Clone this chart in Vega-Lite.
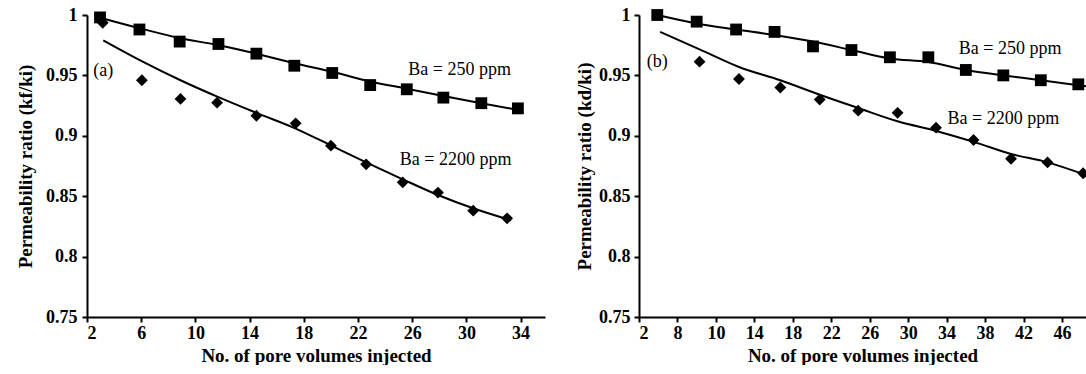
{
  "$schema": "https://vega.github.io/schema/vega-lite/v6.json",
  "background": "white",
  "padding": {"left": 16, "top": 6, "right": 0, "bottom": 0},
  "spacing": 30,
  "config": {
    "font": "Liberation Serif",
    "view": {"stroke": null},
    "axis": {
      "grid": false,
      "domainColor": "black",
      "domainWidth": 2,
      "tickColor": "black",
      "tickWidth": 2,
      "tickSize": 5,
      "labelFont": "Liberation Serif",
      "labelFontWeight": "bold",
      "labelFontSize": 18,
      "labelColor": "black",
      "titleFont": "Liberation Serif",
      "titleFontWeight": "bold",
      "titleFontSize": 19,
      "titleColor": "black"
    }
  },
  "datasets": {
    "a": [
      {"x": 2.96, "y": 0.998, "series": "250", "kind": "data"},
      {"x": 5.87, "y": 0.988, "series": "250", "kind": "data"},
      {"x": 8.84, "y": 0.978, "series": "250", "kind": "data"},
      {"x": 11.7, "y": 0.976, "series": "250", "kind": "data"},
      {"x": 14.5, "y": 0.968, "series": "250", "kind": "data"},
      {"x": 17.3, "y": 0.958, "series": "250", "kind": "data"},
      {"x": 20.1, "y": 0.952, "series": "250", "kind": "data"},
      {"x": 22.9, "y": 0.942, "series": "250", "kind": "data"},
      {"x": 25.6, "y": 0.9385, "series": "250", "kind": "data"},
      {"x": 28.3, "y": 0.9316, "series": "250", "kind": "data"},
      {"x": 31.1, "y": 0.927, "series": "250", "kind": "data"},
      {"x": 33.8, "y": 0.9227, "series": "250", "kind": "data"},
      {"x": 3.16, "y": 0.9936, "series": "2200", "kind": "data"},
      {"x": 6.05, "y": 0.946, "series": "2200", "kind": "data"},
      {"x": 8.9, "y": 0.9305, "series": "2200", "kind": "data"},
      {"x": 11.6, "y": 0.9274, "series": "2200", "kind": "data"},
      {"x": 14.5, "y": 0.9166, "series": "2200", "kind": "data"},
      {"x": 17.4, "y": 0.9103, "series": "2200", "kind": "data"},
      {"x": 20.0, "y": 0.8918, "series": "2200", "kind": "data"},
      {"x": 22.6, "y": 0.8764, "series": "2200", "kind": "data"},
      {"x": 25.3, "y": 0.8615, "series": "2200", "kind": "data"},
      {"x": 27.9, "y": 0.853, "series": "2200", "kind": "data"},
      {"x": 30.5, "y": 0.838, "series": "2200", "kind": "data"},
      {"x": 33.0, "y": 0.8317, "series": "2200", "kind": "data"},
      {"x": 2.9, "y": 0.998, "series": "250", "kind": "fit"},
      {"x": 5.9, "y": 0.989, "series": "250", "kind": "fit"},
      {"x": 8.8, "y": 0.981, "series": "250", "kind": "fit"},
      {"x": 11.7, "y": 0.975, "series": "250", "kind": "fit"},
      {"x": 14.5, "y": 0.968, "series": "250", "kind": "fit"},
      {"x": 17.3, "y": 0.96, "series": "250", "kind": "fit"},
      {"x": 20.1, "y": 0.953, "series": "250", "kind": "fit"},
      {"x": 22.9, "y": 0.945, "series": "250", "kind": "fit"},
      {"x": 25.6, "y": 0.939, "series": "250", "kind": "fit"},
      {"x": 28.3, "y": 0.933, "series": "250", "kind": "fit"},
      {"x": 31.1, "y": 0.927, "series": "250", "kind": "fit"},
      {"x": 34.0, "y": 0.921, "series": "250", "kind": "fit"},
      {"x": 3.2, "y": 0.979, "series": "2200", "kind": "fit"},
      {"x": 6.0, "y": 0.962, "series": "2200", "kind": "fit"},
      {"x": 8.9, "y": 0.946, "series": "2200", "kind": "fit"},
      {"x": 11.7, "y": 0.932, "series": "2200", "kind": "fit"},
      {"x": 14.5, "y": 0.919, "series": "2200", "kind": "fit"},
      {"x": 17.4, "y": 0.906, "series": "2200", "kind": "fit"},
      {"x": 20.0, "y": 0.892, "series": "2200", "kind": "fit"},
      {"x": 22.6, "y": 0.878, "series": "2200", "kind": "fit"},
      {"x": 25.3, "y": 0.864, "series": "2200", "kind": "fit"},
      {"x": 27.9, "y": 0.851, "series": "2200", "kind": "fit"},
      {"x": 30.5, "y": 0.84, "series": "2200", "kind": "fit"},
      {"x": 33.3, "y": 0.83, "series": "2200", "kind": "fit"}
    ],
    "b": [
      {"x": 3.9, "y": 1.0, "series": "250", "kind": "data"},
      {"x": 8.0, "y": 0.9945, "series": "250", "kind": "data"},
      {"x": 12.1, "y": 0.988, "series": "250", "kind": "data"},
      {"x": 16.1, "y": 0.986, "series": "250", "kind": "data"},
      {"x": 20.1, "y": 0.974, "series": "250", "kind": "data"},
      {"x": 24.1, "y": 0.971, "series": "250", "kind": "data"},
      {"x": 28.1, "y": 0.965, "series": "250", "kind": "data"},
      {"x": 32.1, "y": 0.965, "series": "250", "kind": "data"},
      {"x": 36.0, "y": 0.9545, "series": "250", "kind": "data"},
      {"x": 39.9, "y": 0.95, "series": "250", "kind": "data"},
      {"x": 43.8, "y": 0.946, "series": "250", "kind": "data"},
      {"x": 47.7, "y": 0.9426, "series": "250", "kind": "data"},
      {"x": 8.3, "y": 0.9614, "series": "2200", "kind": "data"},
      {"x": 12.4, "y": 0.947, "series": "2200", "kind": "data"},
      {"x": 16.7, "y": 0.94, "series": "2200", "kind": "data"},
      {"x": 20.8, "y": 0.93, "series": "2200", "kind": "data"},
      {"x": 24.8, "y": 0.9208, "series": "2200", "kind": "data"},
      {"x": 28.9, "y": 0.919, "series": "2200", "kind": "data"},
      {"x": 32.9, "y": 0.9067, "series": "2200", "kind": "data"},
      {"x": 36.8, "y": 0.8965, "series": "2200", "kind": "data"},
      {"x": 40.7, "y": 0.881, "series": "2200", "kind": "data"},
      {"x": 44.5, "y": 0.878, "series": "2200", "kind": "data"},
      {"x": 48.2, "y": 0.869, "series": "2200", "kind": "data"},
      {"x": 3.9, "y": 1.0, "series": "250", "kind": "fit"},
      {"x": 8.0, "y": 0.993, "series": "250", "kind": "fit"},
      {"x": 12.1, "y": 0.988, "series": "250", "kind": "fit"},
      {"x": 16.1, "y": 0.9834, "series": "250", "kind": "fit"},
      {"x": 20.1, "y": 0.978, "series": "250", "kind": "fit"},
      {"x": 24.1, "y": 0.971, "series": "250", "kind": "fit"},
      {"x": 28.1, "y": 0.964, "series": "250", "kind": "fit"},
      {"x": 32.1, "y": 0.961, "series": "250", "kind": "fit"},
      {"x": 36.0, "y": 0.9545, "series": "250", "kind": "fit"},
      {"x": 39.9, "y": 0.95, "series": "250", "kind": "fit"},
      {"x": 43.8, "y": 0.946, "series": "250", "kind": "fit"},
      {"x": 48.5, "y": 0.941, "series": "250", "kind": "fit"},
      {"x": 4.2, "y": 0.986, "series": "2200", "kind": "fit"},
      {"x": 8.3, "y": 0.9716, "series": "2200", "kind": "fit"},
      {"x": 12.4, "y": 0.957, "series": "2200", "kind": "fit"},
      {"x": 16.7, "y": 0.946, "series": "2200", "kind": "fit"},
      {"x": 20.8, "y": 0.934, "series": "2200", "kind": "fit"},
      {"x": 24.8, "y": 0.923, "series": "2200", "kind": "fit"},
      {"x": 28.9, "y": 0.912, "series": "2200", "kind": "fit"},
      {"x": 32.9, "y": 0.904, "series": "2200", "kind": "fit"},
      {"x": 36.8, "y": 0.895, "series": "2200", "kind": "fit"},
      {"x": 40.7, "y": 0.885, "series": "2200", "kind": "fit"},
      {"x": 44.5, "y": 0.878, "series": "2200", "kind": "fit"},
      {"x": 48.5, "y": 0.8675, "series": "2200", "kind": "fit"}
    ],
    "la": [
      {"x": 29.5, "y": 0.9545, "label": "Ba = 250 ppm"},
      {"x": 29.2, "y": 0.88, "label": "Ba = 2200 ppm"},
      {"x": 3.2, "y": 0.9536, "label": "(a)"}
    ],
    "lb": [
      {"x": 40.6, "y": 0.9719, "label": "Ba = 250 ppm"},
      {"x": 39.9, "y": 0.9139, "label": "Ba = 2200 ppm"},
      {"x": 3.9, "y": 0.961, "label": "(b)"}
    ]
  },
  "hconcat": [
    {
      "width": 458,
      "height": 302,
      "encoding": {
        "x": {"field": "x", "type": "quantitative", "scale": {"domain": [2, 35.8], "nice": false, "zero": false},
          "axis": {"values": [2, 6, 10, 14, 18, 22, 26, 30, 34], "title": "No. of pore volumes injected", "labelPadding": 2, "titlePadding": 4}},
        "y": {"field": "y", "type": "quantitative", "scale": {"domain": [0.75, 1], "nice": false, "zero": false},
          "axis": {"values": [0.75, 0.8, 0.85, 0.9, 0.95, 1], "format": "~g", "title": "Permeability ratio (kf/ki)", "labelPadding": 5, "titlePadding": 10}}
      },
      "layer": [
        {
          "data": {"name": "a"},
          "transform": [{"filter": "datum.kind == 'fit'"}],
          "mark": {"type": "line", "color": "black", "strokeWidth": 2, "interpolate": "monotone"},
          "encoding": {"detail": {"field": "series"}, "order": {"field": "x", "type": "quantitative"}}
        },
        {
          "data": {"name": "a"},
          "transform": [{"filter": "datum.kind == 'data'"}],
          "mark": {"type": "point", "filled": true, "color": "black", "opacity": 1, "size": 140},
          "encoding": {"shape": {"field": "series", "type": "nominal", "scale": {"domain": ["250", "2200"], "range": ["square", "diamond"]}, "legend": null}}
        },
        {
          "data": {"name": "la"},
          "mark": {"type": "text", "font": "Liberation Serif", "fontSize": 18, "color": "black", "align": "center", "baseline": "middle"},
          "encoding": {"text": {"field": "label"}}
        }
      ]
    },
    {
      "width": 447,
      "height": 302,
      "encoding": {
        "x": {"field": "x", "type": "quantitative", "scale": {"domain": [2, 48.5], "nice": false, "zero": false},
          "axis": {"values": [2, 6, 10, 14, 18, 22, 26, 30, 34, 38, 42, 46], "labelExpr": "datum.value == 6 ? '8' : datum.label", "title": "No. of pore volumes injected", "labelPadding": 2, "titlePadding": 4}},
        "y": {"field": "y", "type": "quantitative", "scale": {"domain": [0.75, 1], "nice": false, "zero": false},
          "axis": {"values": [0.75, 0.8, 0.85, 0.9, 0.95, 1], "format": "~g", "title": "Permeability ratio (kd/ki)", "labelPadding": 4, "titlePadding": 4}}
      },
      "layer": [
        {
          "data": {"name": "b"},
          "transform": [{"filter": "datum.kind == 'fit'"}],
          "mark": {"type": "line", "color": "black", "strokeWidth": 2, "interpolate": "monotone"},
          "encoding": {"detail": {"field": "series"}, "order": {"field": "x", "type": "quantitative"}}
        },
        {
          "data": {"name": "b"},
          "transform": [{"filter": "datum.kind == 'data'"}],
          "mark": {"type": "point", "filled": true, "color": "black", "opacity": 1, "size": 140},
          "encoding": {"shape": {"field": "series", "type": "nominal", "scale": {"domain": ["250", "2200"], "range": ["square", "diamond"]}, "legend": null}}
        },
        {
          "data": {"name": "lb"},
          "mark": {"type": "text", "font": "Liberation Serif", "fontSize": 18, "color": "black", "align": "center", "baseline": "middle"},
          "encoding": {"text": {"field": "label"}}
        }
      ]
    }
  ]
}
